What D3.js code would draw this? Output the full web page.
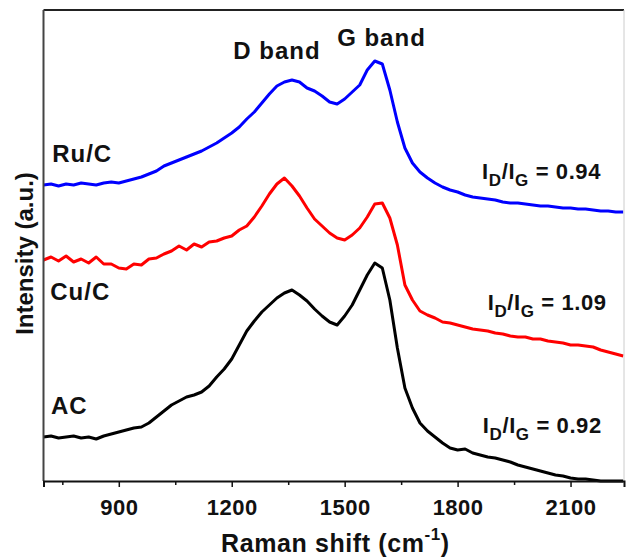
<!DOCTYPE html>
<html>
<head>
<meta charset="utf-8">
<script src="https://cdn.jsdelivr.net/npm/d3@7"></script>
<style>
  body { margin: 0; background: #fff; }
  text { font-family: "Liberation Sans", Arial, sans-serif; font-weight: bold; fill: #111; }
</style>
</head>
<body>
<div id="chart"></div>
<script>
// Raman shift grid (cm-1), shared by all spectra
var shift = d3.range(700, 2241, 20);

// intensities (a.u.), offsets as in the original
var ruC = [296,297,295,297,296,298,297,296,298,299,298,300,302,304,307,310,315,318,321,324,327,330,334,338,343,348,354,362,369,378,387,395,399,401,399,393,390,385,379,377,382,389,396,411,420,417,391,359,333,318,309,303,298,294,291,289,286,284,283,282,281,279,278,278,277,276,275,275,274,273,273,272,272,271,270,270,269,269];
var cuC = [221,224,220,225,219,222,218,224,217,217,213,212,217,216,222,223,227,230,235,231,237,234,239,240,243,245,251,255,264,275,287,297,303,295,285,273,262,255,248,243,241,246,253,264,277,278,263,236,196,181,170,166,163,159,158,156,154,152,151,150,148,147,145,144,144,142,142,140,139,138,136,136,135,134,131,129,127,125];
var ac = [44,45,43,44,45,43,44,42,45,47,49,51,53,54,58,64,70,76,80,84,86,89,95,104,112,122,136,150,160,169,176,183,188,191,186,180,172,165,159,156,165,176,191,206,218,213,181,133,93,73,58,50,44,38,33,31,32,28,26,24,23,21,19,16,14,12,10,8,6,5,3,2,2,1,0,0,0,0];

var seriesColors = ["#0000ff", "#ff0000", "#000000"];
var seriesValues = [ruC, cuC, ac];

var xTicks = [900, 1200, 1500, 1800, 2100];
var xMinorTicks = [750, 1050, 1350, 1650, 1950];

// text annotations: [text, shift, intensity]
var sampleLabels = [["Ru/C", 723, 319], ["Cu/C", 718, 181], ["AC", 720, 67]];
var bandLabels = [["D band", 1204, 422], ["G band", 1480, 435]];
var ratioLabels = [["0.94", 1865, 302], ["1.09", 1880, 171], ["0.92", 1867, 48]];

var width = 626, height = 558;
var margin = {top: 10, right: 2, bottom: 77, left: 43.5};

var svg = d3.select("#chart")
  .append("svg")
    .attr("width", width)
    .attr("height", height);

var x = d3.scaleLinear()
  .domain([700, 2242])
  .range([margin.left, width - margin.right]);

var y = d3.scaleLinear()
  .domain([0, 471])
  .range([height - margin.bottom, margin.top]);

svg.append("clipPath").attr("id", "clip")
  .append("rect")
    .attr("x", margin.left)
    .attr("y", margin.top)
    .attr("width", width - margin.left - margin.right)
    .attr("height", height - margin.top - margin.bottom + 2);

// spectra
var line = d3.line()
  .x((d, i) => x(shift[i]))
  .y(d => y(d));

seriesValues.forEach(function(vals, k) {
  svg.append("path")
    .datum(vals)
    .attr("clip-path", "url(#clip)")
    .attr("fill", "none")
    .attr("stroke", seriesColors[k])
    .attr("stroke-width", 3)
    .attr("stroke-linejoin", "round")
    .attr("d", line);
});

// frame
svg.append("line")
  .attr("x1", margin.left).attr("x2", width - margin.right)
  .attr("y1", margin.top).attr("y2", margin.top)
  .attr("stroke", "#222").attr("stroke-width", 2);
svg.append("line")
  .attr("x1", width - margin.right).attr("x2", width - margin.right)
  .attr("y1", margin.top).attr("y2", height - margin.bottom)
  .attr("stroke", "#ccc").attr("stroke-width", 1);
svg.append("line")
  .attr("x1", margin.left).attr("x2", margin.left)
  .attr("y1", margin.top).attr("y2", height - margin.bottom)
  .attr("stroke", "#444").attr("stroke-width", 2);

// x axis
var xAxis = svg.append("g")
  .attr("transform", "translate(0," + (height - margin.bottom) + ")")
  .call(d3.axisBottom(x).tickValues(xTicks).tickSize(6).tickPadding(12).tickFormat(d3.format("d")));
xAxis.select(".domain").attr("stroke", "#111").attr("stroke-width", 2);
xAxis.selectAll(".tick line").attr("stroke", "#111").attr("stroke-width", 1.5);
xAxis.selectAll(".tick text")
  .attr("font-family", "Liberation Sans, Arial, sans-serif")
  .attr("font-size", 22).attr("font-weight", "bold").attr("fill", "#111")
  .attr("letter-spacing", 0.5);

var xMinor = svg.append("g")
  .attr("transform", "translate(0," + (height - margin.bottom) + ")")
  .call(d3.axisBottom(x).tickValues(xMinorTicks).tickSize(4).tickFormat(""));
xMinor.select(".domain").remove();
xMinor.selectAll(".tick line").attr("stroke", "#111").attr("stroke-width", 1.5);

// axis titles
var xt = svg.append("text")
  .attr("x", 221)
  .attr("y", 552)
  .attr("font-size", 25)
  .attr("letter-spacing", 0.6);
xt.append("tspan").text("Raman shift (cm");
xt.append("tspan").attr("font-size", 17).attr("dy", -12).text("-1");
xt.append("tspan").attr("dy", 12).text(")");

svg.append("text")
  .attr("transform", "translate(33," + ((margin.top + height - margin.bottom) / 2 + 8) + ") rotate(-90)")
  .attr("text-anchor", "middle")
  .attr("font-size", 24)
  .text("Intensity (a.u.)");

// labels
svg.selectAll(".sample")
  .data(sampleLabels.concat(bandLabels))
  .enter().append("text")
    .attr("x", d => x(d[1]))
    .attr("y", d => y(d[2]))
    .attr("font-size", 24)
    .attr("letter-spacing", 1)
    .text(d => d[0]);

var ratio = svg.selectAll(".ratio")
  .data(ratioLabels)
  .enter().append("text")
    .attr("x", d => x(d[1]))
    .attr("y", d => y(d[2]))
    .attr("font-size", 22)
    .attr("letter-spacing", 0.6);
ratio.append("tspan").text("I");
ratio.append("tspan").attr("font-size", 17).attr("dy", 7).text("D");
ratio.append("tspan").attr("dy", -7).text("/I");
ratio.append("tspan").attr("font-size", 17).attr("dy", 7).text("G");
ratio.append("tspan").attr("dy", -7).text(d => " = " + d[0]);
</script>
</body>
</html>
